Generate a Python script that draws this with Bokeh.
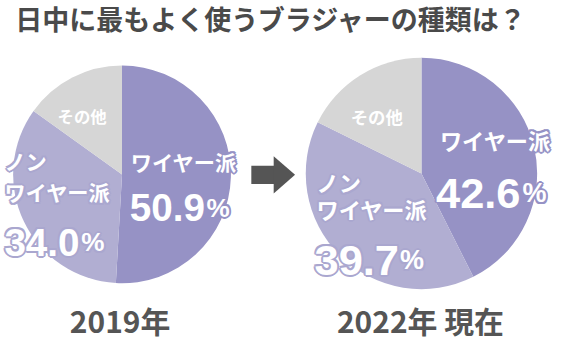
from bokeh.plotting import figure
from bokeh.models import Range1d, ColumnDataSource
from bokeh.core.properties import value
from bokeh.embed import file_html
from bokeh.resources import INLINE
import math

title = "日中に最もよく使うブラジャーの種類は？"
categories = ["ワイヤー派", "ノンワイヤー派", "その他"]
values_2019 = [50.9, 34.0, 15.1]
values_2022 = [42.6, 39.7, 17.7]
year_labels = ["2019年", "2022年 現在"]
colors = ["#9692c5", "#b1aed2", "#d6d6d6"]

W, H = 575, 359
FW, FH = 559, 343
K = 0.965  # font scale (reference px -> figure px)

p = figure(width=FW, height=FH, output_backend="svg", toolbar_location=None,
           x_range=Range1d(0, W), y_range=Range1d(0, H), min_border=0)
p.axis.visible = False
p.grid.visible = False
p.outline_line_color = None
p.background_fill_color = "white"
p.border_fill_color = "white"

def Y(ypix):
    return H - ypix

JP = value("Noto Sans CJK JP")
NUM = value("Liberation Sans")

def pie(cx, cy, r, vals):
    total = sum(vals)
    starts, ends = [], []
    cum = 0.0
    for v in vals:
        starts.append(math.pi / 2 - 2 * math.pi * cum / total)
        cum += v
        ends.append(math.pi / 2 - 2 * math.pi * cum / total)
    src = ColumnDataSource(dict(x=[cx] * len(vals), y=[Y(cy)] * len(vals),
                                s=starts, e=ends, c=colors))
    p.wedge(x="x", y="y", radius=r, start_angle="s", end_angle="e",
            direction="clock", fill_color="c", line_color=None, source=src)

pie(125, 182, 112, values_2019)
pie(433, 181, 119, values_2022)

OUT_NON = "#aaa7cf"
OUT_WIRE = "#9692c5"
OFFS = [(-2, 0), (2, 0), (0, -2), (0, 2), (-1.5, -1.5), (1.5, 1.5), (-1.5, 1.5), (1.5, -1.5)]

def txt(x, y, s, size, font=JP, color="white", align="left", baseline="middle",
        outline=None):
    kw = dict(text_font=font, text_font_size=f"{size * K:.1f}px", text_font_style="bold",
              text_align=align, text_baseline=baseline)
    if outline:
        for dx, dy in OFFS:
            p.text(x=[x], y=[Y(y)], text=[s], text_color=outline,
                   x_offset=dx, y_offset=dy, **kw)
    p.text(x=[x], y=[Y(y)], text=[s], text_color=color, **kw)

# title
txt(279, 19, title, 28, color="#4a4a4a", align="center")

# left pie labels
txt(84, 121, categories[2], 17, align="center")
txt(134, 168, categories[0], 22, outline=OUT_WIRE)
txt(133, 217, f"{values_2019[0]:.1f}", 40, font=NUM, baseline="alphabetic", outline=OUT_WIRE)
txt(212, 217, "%", 27, font=NUM, baseline="alphabetic", outline=OUT_WIRE)
txt(4, 167, categories[1][:2], 22, outline=OUT_NON)
txt(4, 200, categories[1][2:], 22, outline=OUT_NON)
txt(4, 253, f"{values_2019[1]:.1f}", 40, font=NUM, baseline="alphabetic", outline=OUT_NON)
txt(83, 253, "%", 27, font=NUM, baseline="alphabetic", outline=OUT_NON)

# right pie labels
txt(387, 121, categories[2], 18, align="center")
txt(452, 146, categories[0], 23, outline=OUT_WIRE)
txt(448, 202, f"{values_2022[0]:.1f}", 45, font=NUM, baseline="alphabetic", outline=OUT_WIRE)
txt(537, 202, "%", 28, font=NUM, baseline="alphabetic", outline=OUT_WIRE)
txt(325, 190, categories[1][:2], 23, outline=OUT_NON)
txt(325, 218, categories[1][2:], 23, outline=OUT_NON)
txt(323, 272, f"{values_2022[1]:.1f}", 45, font=NUM, baseline="alphabetic", outline=OUT_NON)
txt(411, 272, "%", 28, font=NUM, baseline="alphabetic", outline=OUT_NON)

# arrow
p.quad(left=[258], right=[282], bottom=[Y(192)], top=[Y(173)],
       fill_color="#555555", line_color=None)
p.patch(x=[281, 303, 281], y=[Y(163), Y(182.5), Y(202)],
        fill_color="#555555", line_color=None)

# year labels
txt(123, 334, year_labels[0], 31, color="#555555", align="center")
txt(432, 334, year_labels[1], 31, color="#555555", align="center")

open("out.html", "w").write(file_html(p, INLINE))
